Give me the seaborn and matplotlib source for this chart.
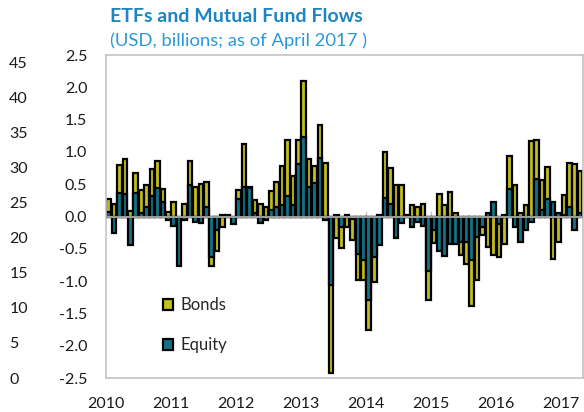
import numpy as np
import pandas as pd
import seaborn as sns
import matplotlib.pyplot as plt

# Monthly flows, Jan 2010 - Apr 2017 (USD bn)
bonds = [0.27, 0.20, 0.80, 0.89, 0.09, 0.68, 0.41, 0.49, 0.73, 0.86, 0.42, 0.07,
         0.22, 0.00, 0.20, 0.86, 0.46, 0.50, 0.54, -0.77, -0.53, -0.17, 0.03, 0.00,
         0.41, 1.12, 0.46, 0.26, 0.19, 0.14, 0.40, 0.54, 0.78, 1.18, 0.63, 1.18,
         2.09, 0.89, 0.78, 1.42, 0.83, -2.42, -0.34, -0.49, -0.17, -0.36, -0.98, -0.99,
         -1.75, -1.01, 0.02, 1.00, 0.75, 0.49, 0.49, 0.02, 0.18, 0.14, 0.19, -1.29,
         -0.41, 0.35, 0.18, 0.38, 0.05, -0.60, -0.74, -1.39, -0.98, -0.29, -0.47, -0.60,
         -0.63, -0.42, 0.93, 0.48, 0.05, 0.18, 1.17, 1.19, 0.57, 0.77, -0.66, -0.39,
         0.34, 0.83, 0.81, 0.70]
equity = [0.07, -0.26, 0.36, 0.35, -0.44, 0.36, 0.05, 0.15, 0.32, 0.44, 0.23, -0.05,
          -0.15, -0.77, -0.05, 0.49, -0.08, -0.10, 0.15, -0.62, -0.21, 0.02, 0.01, -0.12,
          0.27, 0.46, 0.44, 0.05, -0.10, -0.05, 0.10, 0.15, 0.18, 0.31, 0.18, 0.81,
          1.23, 0.46, 0.52, 0.90, -0.06, -1.06, 0.02, -0.16, 0.03, -0.04, -0.58, -0.68,
          -1.30, -0.63, -0.44, 0.28, 0.20, -0.34, -0.10, 0.00, -0.16, -0.08, -0.15, -0.84,
          -0.21, -0.53, -0.61, -0.42, -0.42, -0.39, -0.39, -0.67, -0.31, -0.16, 0.06, 0.22,
          -0.11, 0.02, 0.42, -0.16, -0.39, -0.21, -0.08, 0.58, 0.10, 0.27, 0.22, 0.05,
          0.02, 0.15, -0.21, 0.05]
years = [2010, 2011, 2012, 2013, 2014, 2015, 2016, 2017]
flow_ticks = [-2.5, -2.0, -1.5, -1.0, -0.5, 0.0, 0.5, 1.0, 1.5, 2.0, 2.5]
outer_ticks = [0, 5, 10, 15, 20, 25, 30, 35, 40, 45]

yellow = '#e0d800'
teal = '#007f98'
frame = '#c4c4c4'

n = len(bonds)
pos = np.arange(n) + 0.5
df = pd.DataFrame({
    'pos': np.concatenate([pos, pos]),
    'flow': bonds + equity,
    'series': ['Bonds'] * n + ['Equity'] * n,
})

sns.set_style('white')
plt.rcParams['font.family'] = ['Lato', 'DejaVu Sans']

fig = plt.figure(figsize=(5.84, 4.12), dpi=100)
ax = fig.add_axes([0.1815, 0.0825, 0.8165, 0.784])

sns.barplot(data=df, x='pos', y='flow', hue='series', dodge=False, native_scale=True,
            palette=[yellow, teal], width=0.85, edgecolor='black', linewidth=1.6,
            errorbar=None, ax=ax)

ax.set_xlim(0, n)
ax.set_ylim(-2.5, 2.5)
ax.set_xlabel('')
ax.set_ylabel('')

# zero line with year marks
year_pos = np.arange(len(years)) * 12
ax.axhline(0, color='#9a9a9a', lw=1.5, zorder=4)
ax.vlines(year_pos, 0, 0.09, color='#c8c8c8', lw=1, zorder=0.5)

ax.set_xticks(year_pos, labels=[str(y) for y in years])
ax.set_yticks(flow_ticks, labels=[f'{v:.1f}' for v in flow_ticks])
ax.tick_params(axis='x', length=0, pad=14, labelsize=11.5, labelcolor='#1a1a1a')
ax.tick_params(axis='y', direction='in', length=4, color=frame, pad=13.5,
               labelsize=11.5, labelcolor='#1a1a1a')
for s in ax.spines.values():
    s.set_color(frame)
    s.set_linewidth(1.2)

# outer left scale
sec = ax.secondary_yaxis(-0.203, functions=(lambda y: (y + 2.5) / 0.1087,
                                            lambda v: v * 0.1087 - 2.5))
sec.set_yticks(outer_ticks, labels=[str(v) for v in outer_ticks])
sec.spines['left'].set_visible(False)
sec.tick_params(length=0, pad=0, labelsize=11.5, labelcolor='#1a1a1a')
for lbl in sec.get_yticklabels():
    lbl.set_horizontalalignment('left')

handles, labels = ax.get_legend_handles_labels()
ax.legend(handles, labels, loc='lower left', bbox_to_anchor=(0.088, 0.03),
          frameon=False, labelspacing=1.45, handlelength=0.6, handleheight=0.6,
          handletextpad=0.45, fontsize=12)

fig.text(110 / 584, 1 - 16 / 412, 'ETFs and Mutual Fund Flows', weight='bold',
         color='#1a85bf', fontsize=14, va='center')
fig.text(110 / 584, 1 - 41 / 412, '(USD, billions; as of April 2017 )',
         color='#2c98d6', fontsize=13.3, va='center')

plt.savefig('out.png', dpi=100)
